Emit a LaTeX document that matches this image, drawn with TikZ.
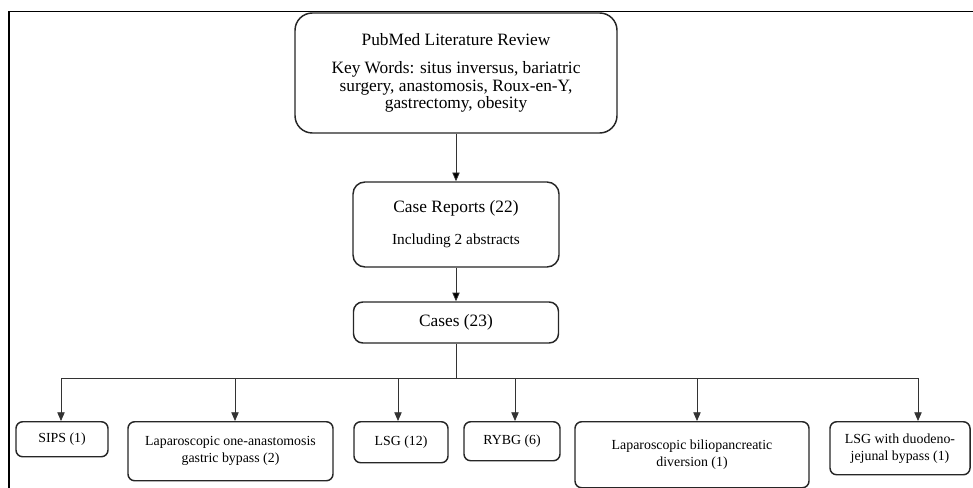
\documentclass[tikz,border=0pt]{standalone}
\usepackage{fontspec}
\setmainfont{Liberation Serif}
\usetikzlibrary{arrows.meta}

\begin{document}
\begin{tikzpicture}[x=0.75pt, y=-0.75pt,
		box_style/.style={draw=black!85,line width=1.1pt,rounded corners=9pt,fill=white,align=center,inner sep=2pt},
		leaf_style/.style={box_style,rounded corners=5pt,anchor=north,font=\fontsize{10.4}{12.8}\selectfont},
		edge_style/.style={draw=black!80,line width=0.6pt,-{Triangle[width=5.5pt,length=6.5pt]}},
		line_style/.style={draw=black!80,line width=0.6pt}]

		\useasboundingbox (0,0) rectangle (973,488);
		\draw[line width=1pt] (9,488) -- (9,11.5) -- (973,11.5);

		\node[box_style,rounded corners=13pt,minimum width=241.5pt,minimum height=90pt,font=\fontsize{13}{13.1}\selectfont] (rev) at (456,73) {PubMed Literature Review\\[8pt] Key Words: situs inversus, bariatric\\ surgery, anastomosis, Roux-en-Y,\\ gastrectomy, obesity};
		\node[box_style,minimum width=154.5pt,minimum height=63.75pt,font=\fontsize{13}{14}\selectfont] (rep) at (456,224.5) {Case Reports (22)\\[10pt] {\fontsize{11.5}{13}\selectfont Including 2 abstracts}};
		\node[box_style,rounded corners=7pt,minimum width=153.75pt,minimum height=30.75pt,font=\fontsize{13}{14}\selectfont] (cas) at (456,322.5) {Cases (23)};

		\node[leaf_style,minimum width=69pt,minimum height=26.25pt] (sips) at (62,421) {SIPS (1)};
		\node[leaf_style,minimum width=153.75pt,minimum height=44.25pt] (oagb) at (230.5,421) {Laparoscopic one-anastomosis\\ gastric bypass (2)};
		\node[leaf_style,minimum width=70.5pt,minimum height=30.75pt] (lsg) at (401,421) {LSG (12)};
		\node[leaf_style,minimum width=72pt,minimum height=29.25pt] (rybg) at (512,421) {RYBG (6)};
		\node[leaf_style,minimum width=175.5pt,minimum height=49.5pt] (bpd) at (692,421) {Laparoscopic biliopancreatic\\ diversion (1)};
		\node[leaf_style,minimum width=105pt,minimum height=39.75pt] (djb) at (900,421) {LSG with duodeno-\\jejunal bypass (1)};

		\coordinate (j1) at (61,378);
		\coordinate (j2) at (235,378);
		\coordinate (j3) at (398,378);
		\coordinate (j4) at (515,378);
		\coordinate (j5) at (697,378);
		\coordinate (j6) at (918,378);

		\draw[edge_style] (rev) edge (rep);
		\draw[edge_style] (rep) edge (cas);
		\draw[line_style] (cas.south) -- (cas.south |- j1);
		\draw[line_style] (j1) -- (j6);
		\draw[edge_style] (j1) -- (j1 |- sips.north);
		\draw[edge_style] (j2) -- (j2 |- oagb.north);
		\draw[edge_style] (j3) -- (j3 |- lsg.north);
		\draw[edge_style] (j4) -- (j4 |- rybg.north);
		\draw[edge_style] (j5) -- (j5 |- bpd.north);
		\draw[edge_style] (j6) -- (j6 |- djb.north);

\end{tikzpicture}
\end{document}
